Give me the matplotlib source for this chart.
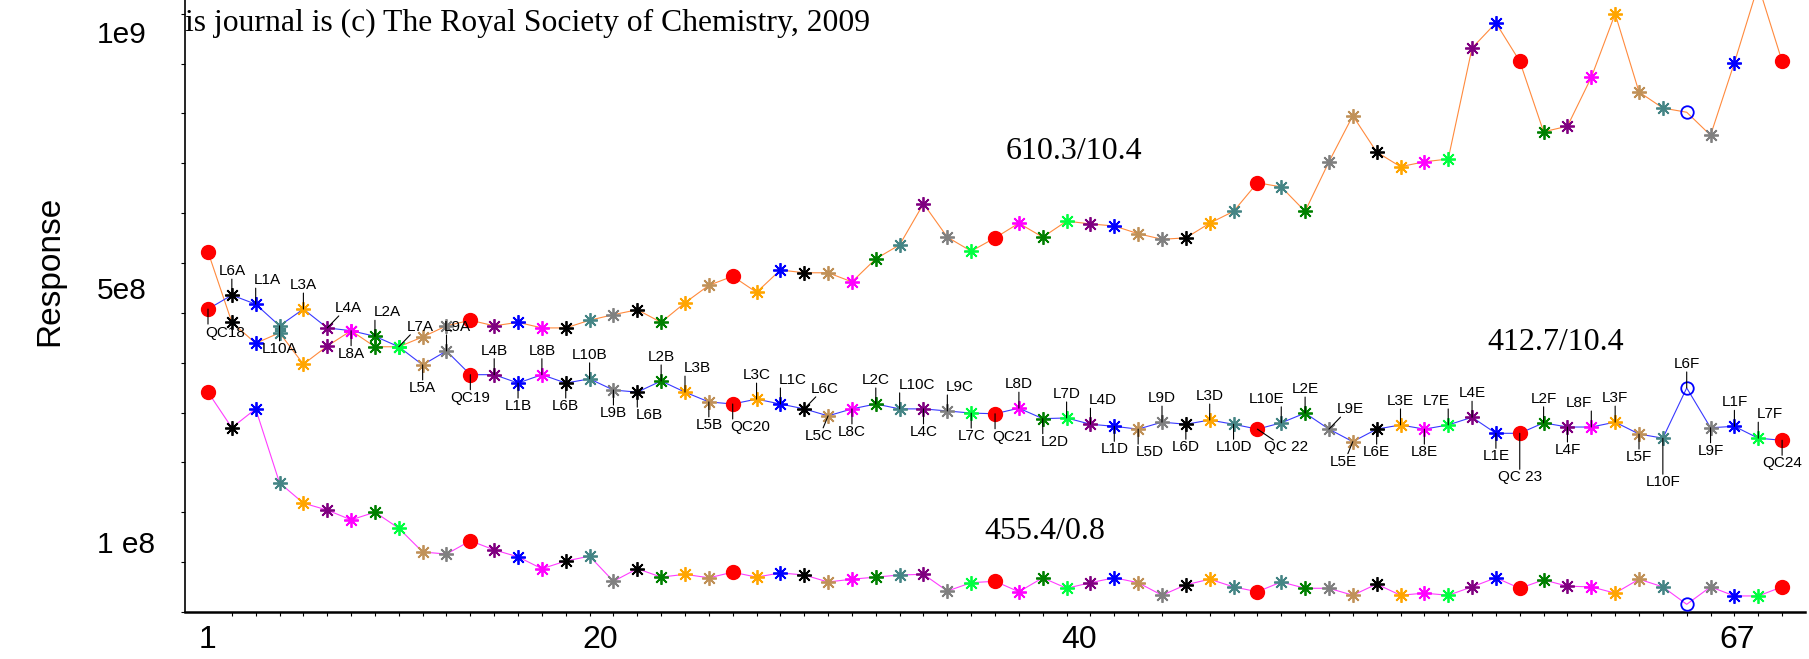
import matplotlib
matplotlib.use('Agg')
import matplotlib.pyplot as plt
from matplotlib.ticker import MultipleLocator, FixedLocator
import numpy as np

plt.rcParams['font.family'] = ['Liberation Sans', 'DejaVu Sans']

# injection order (sample names as printed on the chart)
samples = ['QC18', 'L6A', 'L1A', 'L10A', 'L3A', 'L4A', 'L8A', 'L2A', 'L7A', 'L5A', 'L9A',
           'QC19', 'L4B', 'L1B', 'L8B', 'L6B', 'L10B', 'L9B', 'L6B', 'L2B', 'L3B', 'L5B',
           'QC20', 'L3C', 'L1C', 'L6C', 'L5C', 'L8C', 'L2C', 'L10C', 'L4C', 'L9C', 'L7C',
           'QC21', 'L8D', 'L2D', 'L7D', 'L4D', 'L1D', 'L5D', 'L9D', 'L6D', 'L3D', 'L10D',
           'QC 22', 'L10E', 'L2E', 'L9E', 'L5E', 'L6E', 'L3E', 'L8E', 'L7E', 'L4E', 'L1E',
           'QC 23', 'L2F', 'L4F', 'L8F', 'L3F', 'L5F', 'L10F', 'L6F', 'L9F', 'L1F', 'L7F',
           'QC24']
flagged = [63]  # drawn as open blue circle

# responses in units of 1e8
resp_610 = [5.16, 4.15, 3.85, 4.00, 3.55, 3.81, 4.03, 3.80, 3.80, 3.94, 4.10,
            4.18, 4.10, 4.15, 4.07, 4.07, 4.18, 4.26, 4.33, 4.15, 4.43, 4.68,
            4.81, 4.58, 4.90, 4.86, 4.86, 4.73, 5.06, 5.26, 5.85, 5.37, 5.17,
            5.36, 5.57, 5.37, 5.60, 5.56, 5.53, 5.42, 5.34, 5.36, 5.57, 5.74,
            6.15, 6.09, 5.74, 6.45, 7.11, 6.59, 6.38, 6.45, 6.49, 8.08, 8.44,
            7.89, 6.88, 6.96, 7.66, 8.57, 7.45, 7.22, 7.16, 6.83, 7.87, 8.98,
            7.89]
resp_412 = [4.34, 4.54, 4.41, 4.10, 4.34, 4.07, 4.03, 3.95, 3.80, 3.54, 3.74,
            3.40, 3.40, 3.28, 3.40, 3.28, 3.34, 3.18, 3.15, 3.31, 3.15, 3.01,
            2.98, 3.05, 2.98, 2.91, 2.81, 2.91, 2.98, 2.91, 2.91, 2.88, 2.85,
            2.84, 2.92, 2.77, 2.78, 2.69, 2.66, 2.62, 2.72, 2.69, 2.75, 2.69,
            2.62, 2.71, 2.85, 2.62, 2.44, 2.62, 2.68, 2.62, 2.68, 2.79, 2.56,
            2.56, 2.71, 2.65, 2.65, 2.72, 2.55, 2.49, 3.21, 2.64, 2.66, 2.49,
            2.46]
resp_455 = [3.15, 2.64, 2.91, 1.85, 1.56, 1.46, 1.32, 1.43, 1.20, 0.86, 0.83,
            1.02, 0.89, 0.79, 0.62, 0.73, 0.80, 0.44, 0.62, 0.50, 0.54, 0.49,
            0.57, 0.50, 0.56, 0.53, 0.43, 0.47, 0.50, 0.53, 0.54, 0.30, 0.42,
            0.44, 0.29, 0.49, 0.34, 0.42, 0.49, 0.42, 0.24, 0.39, 0.47, 0.36,
            0.29, 0.43, 0.34, 0.34, 0.24, 0.40, 0.24, 0.27, 0.24, 0.36, 0.49,
            0.34, 0.46, 0.37, 0.36, 0.27, 0.47, 0.36, 0.11, 0.36, 0.23, 0.23,
            0.36]

# where each sample name sits around the 412.7 trace
label_side = ['q', 'u', 'u+', 'd', 'u', 'ur', 'd', 'u+', 'ur', 'd', 'u9',
              'd', 'u', 'd', 'u', 'd', 'u', 'd', 'd+', 'u', 'u+', 'd',
              'd++', 'u', 'u+', 'ur', 'dl', 'd', 'u', 'u++', 'd', 'u+', 'd',
              'd++', 'u', 'd+', 'u', 'u+', 'd', 'd+', 'u', 'd', 'u', 'd',
              'dr', 'u--', 'u', 'ur', 'dl', 'd', 'u', 'd', 'u-', 'u', 'd',
              'D', 'u', 'd', 'u-', 'u', 'd', 'D', 'u', 'd', 'u', 'u+',
              'd']

tick_pos = [1, 17.44, 37.52, 65.11]
tick_txt = ['1', '20', '40', '67']
ytick_pos = [1.003e8, 4.642e8, 8.309e8]
ytick_txt = ['1 e8', '5e8', '1e9']

sample_colors = {1: '#0000ff', 2: '#008000', 3: '#ffa500', 4: '#800080', 5: '#c09158',
                 6: '#000000', 7: '#00ff40', 8: '#ff00ff', 9: '#808080', 10: '#458585'}
# label offsets in pixels (dx, dy) and whether the pointer is diagonal
offsets = {'u': (0, 24), 'd': (0, -23), 'D': (0, -44),
           'u+': (12, 24), 'u++': (17, 24), 'u-': (-12, 24), 'u--': (-15, 24),
           'd+': (12, -23), 'd++': (17, -23), 'q': (17, -24), 'u9': (11, 24),
           'ur': (21, 20), 'dl': (-9, -20), 'dr': (29, -18)}
diagonal = ['ur', 'dl', 'dr']

x = np.arange(1, len(samples) + 1)

fig = plt.figure(figsize=(18.09, 6.59), dpi=100)
ax = fig.add_axes([185 / 1809, 47 / 659, 1620 / 1809, 612 / 659])


def draw_marker(xi, yi, name, idx):
    if idx in flagged:
        ax.plot(xi, yi, 'o', ms=9, mfc='none', mec='blue', mew=1.3, zorder=3)
    elif name.startswith('QC'):
        ax.plot(xi, yi, 'o', ms=10, color='red', mec='red', zorder=3)
    else:
        c = sample_colors[int(name[1:-1])]
        ax.plot(xi, yi, ls='none', marker=(8, 2, 0), ms=10.5, mec=c, mew=1.3, zorder=3)


for vals, lc in [(resp_610, '#ff8a3d'), (resp_412, '#3838ff'), (resp_455, '#ff3cff')]:
    y = np.array(vals) * 1e8
    ax.plot(x, y, color=lc, lw=0.8, zorder=2)
    for i in range(len(x)):
        draw_marker(x[i], y[i], samples[i], i + 1)

# sample labels on the middle trace
y412 = np.array(resp_412) * 1e8
px = 0.72  # points per pixel
for i, name in enumerate(samples):
    side = label_side[i]
    dx, dy = offsets[side]
    ax.annotate(name, xy=(x[i], y412[i]), xytext=(dx * px, dy * px),
                textcoords='offset points', ha='center', va='center', fontsize=11,
                annotation_clip=False)
    if side in diagonal:
        lx, ly = dx * 0.55, dy * 0.6
    elif side == 'D':
        lx, ly = 0, -36
    else:
        lx, ly = 0, 16 if dy > 0 else -15
    ax.annotate('', xy=(x[i], y412[i]), xytext=(lx * px, ly * px), textcoords='offset points',
                annotation_clip=False,
                arrowprops=dict(arrowstyle='-', color='black', lw=0.8, shrinkA=0, shrinkB=0))

# trace names
for txt, xa, ya in [('610.3/10.4', 0.549, 0.753), ('412.7/10.4', 0.846, 0.440),
                    ('455.4/0.8', 0.531, 0.132)]:
    ax.text(xa, ya, txt, transform=ax.transAxes, ha='center', va='center',
            fontsize=23, family='Liberation Serif')

fig.text(185 / 1809, 1 - 31 / 659, 'is journal is (c) The Royal Society of Chemistry, 2009',
         ha='left', va='baseline', fontsize=22.8, family='Liberation Serif')

ax.set_xlim(0.036, 67.96)
ax.set_ylim(0, 8.768e8)

ax.set_xticks(tick_pos, tick_txt)
ax.xaxis.set_minor_locator(FixedLocator(x))
ax.tick_params(axis='x', which='major', length=0, pad=9, labelsize=23)
ax.tick_params(axis='x', which='minor', length=3, width=0.8, direction='out')

ax.set_yticks(ytick_pos, ytick_txt)
ax.yaxis.set_minor_locator(MultipleLocator(5e8 / 7))
ax.tick_params(axis='y', which='major', length=0, pad=63.5, labelsize=21.5)
ax.tick_params(axis='y', which='minor', length=3, width=0.8, direction='out')
for t in ax.get_yticklabels():
    t.set_horizontalalignment('left')

ax.set_ylabel('Response', fontsize=24, va='center')
ax.yaxis.set_label_coords((50 - 185) / 1620, (612 - 271) / 612)

ax.spines['top'].set_visible(False)
ax.spines['right'].set_visible(False)
ax.spines['left'].set_linewidth(1.2)
ax.spines['bottom'].set_linewidth(1.8)

fig.savefig('out.png', dpi=100)
